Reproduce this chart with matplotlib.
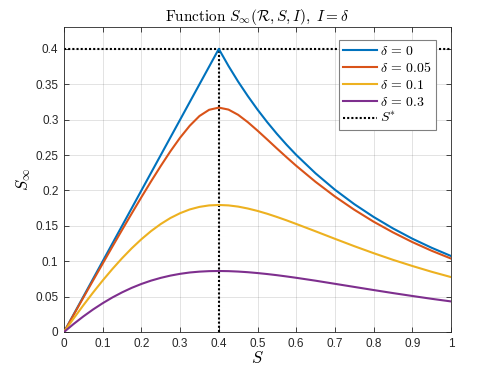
import matplotlib
matplotlib.use("Agg")
import matplotlib.pyplot as plt

plt.rcParams['mathtext.fontset'] = 'cm'
plt.rcParams['font.family'] = ['Liberation Sans', 'DejaVu Sans']

# S grid
S = [0, 0.025, 0.05, 0.075, 0.1, 0.125, 0.15, 0.175, 0.2, 0.225, 0.25, 0.275, 0.3, 0.325,
     0.35, 0.375, 0.4, 0.425, 0.45, 0.475, 0.5, 0.525, 0.55, 0.575, 0.6, 0.65, 0.7, 0.75,
     0.8, 0.85, 0.9, 0.95, 1.0]

s_d0 = [0, 0.025, 0.05, 0.075, 0.1, 0.125, 0.15, 0.175, 0.2, 0.225, 0.25, 0.275, 0.3, 0.325,
        0.35, 0.375, 0.4, 0.376, 0.3538, 0.3334, 0.3143, 0.2966, 0.2801, 0.2647, 0.2503,
        0.2242, 0.2011, 0.1807, 0.1626, 0.1464, 0.1319, 0.1190, 0.1074]
s_d005 = [0, 0.0243, 0.0486, 0.0727, 0.0967, 0.1206, 0.1442, 0.1675, 0.1905, 0.2129, 0.2346,
          0.2554, 0.2746, 0.2915, 0.3052, 0.3140, 0.3171, 0.3143, 0.3069, 0.2965, 0.2846,
          0.2721, 0.2594, 0.2470, 0.2349, 0.2122, 0.1915, 0.1728, 0.1559, 0.1408, 0.1271,
          0.1148, 0.1038]
s_d01 = [0, 0.0192, 0.0378, 0.0557, 0.0728, 0.0890, 0.1042, 0.1183, 0.1311, 0.1426, 0.1526,
         0.1611, 0.1679, 0.1732, 0.1768, 0.1789, 0.1795, 0.1789, 0.1772, 0.1745, 0.1711,
         0.1671, 0.1626, 0.1578, 0.1527, 0.1423, 0.1317, 0.1213, 0.1114, 0.1020, 0.0933,
         0.0851, 0.0776]
s_d03 = [0, 0.0114, 0.0220, 0.0318, 0.0407, 0.0488, 0.0560, 0.0624, 0.0679, 0.0726, 0.0765,
         0.0797, 0.0822, 0.0841, 0.0853, 0.0860, 0.0862, 0.0860, 0.0854, 0.0845, 0.0833,
         0.0819, 0.0803, 0.0785, 0.0766, 0.0725, 0.0681, 0.0637, 0.0593, 0.0550, 0.0509,
         0.0469, 0.0432]

labels = [r'$\delta\,=\,0$', r'$\delta\,=\,0.05$', r'$\delta\,=\,0.1$',
          r'$\delta\,=\,0.3$']
colors = ['#0072BD', '#D95319', '#EDB120', '#7E2F8E']
S_star = 0.4
S_star_val = 0.4

xticks = [0, 0.1, 0.2, 0.3, 0.4, 0.5, 0.6, 0.7, 0.8, 0.9, 1]
xticklabels = ['0', '0.1', '0.2', '0.3', '0.4', '0.5', '0.6', '0.7', '0.8', '0.9', '1']
yticks = [0, 0.05, 0.1, 0.15, 0.2, 0.25, 0.3, 0.35, 0.4]
yticklabels = ['0', '0.05', '0.1', '0.15', '0.2', '0.25', '0.3', '0.35', '0.4']

fig = plt.figure(figsize=(4.98, 3.74), dpi=100)
ax = fig.add_axes([64/498, 42/374, (451-64)/498, (332-27)/374])

dark = (0.15, 0.15, 0.15)
for ys, lab, c in zip([s_d0, s_d005, s_d01, s_d03], labels, colors):
    ax.plot(S, ys, color=c, lw=1.5, label=lab, zorder=3)

ax.axhline(S_star_val, color='black', lw=1.5, linestyle=(0, (1, 1)), zorder=2)
ax.plot([S_star, S_star], [0, S_star_val], color='black', lw=1.5,
        linestyle=(0, (1, 1)), label=r'$S^{*}$', zorder=2)

ax.set_xlim(0, 1)
ax.set_ylim(0, 0.431)
ax.set_xticks(xticks)
ax.set_xticklabels(xticklabels)
ax.set_yticks(yticks)
ax.set_yticklabels(yticklabels)
ax.tick_params(direction='in', top=True, right=True, length=3.5, width=0.6,
               colors=dark, labelsize=8.5, labelcolor=dark, pad=4)
for sp in ax.spines.values():
    sp.set_color(dark)
    sp.set_linewidth(0.6)
ax.grid(True, color=(0.15, 0.15, 0.15), alpha=0.15, lw=0.6)
ax.set_axisbelow(True)

ax.set_xlabel(r'$S$', fontsize=12, labelpad=0)
ax.set_ylabel(r'$S_\infty$', fontsize=12, labelpad=2)
ax.set_title(r'$\mathrm{Function}\ S_\infty(\mathcal{R},S,I),\ I=\delta$', fontsize=11,
             color='black', pad=4)

leg = ax.legend(loc='upper right', bbox_to_anchor=(436/498, 1 - 40/374),
                bbox_transform=fig.transFigure, borderaxespad=0, fontsize=10,
                handlelength=2.45, handletextpad=0.2, labelspacing=0.2,
                borderpad=0.3, fancybox=False, framealpha=1, edgecolor=(0.5, 0.5, 0.5))
leg.get_frame().set_linewidth(0.8)

fig.savefig('out.png', dpi=100)
